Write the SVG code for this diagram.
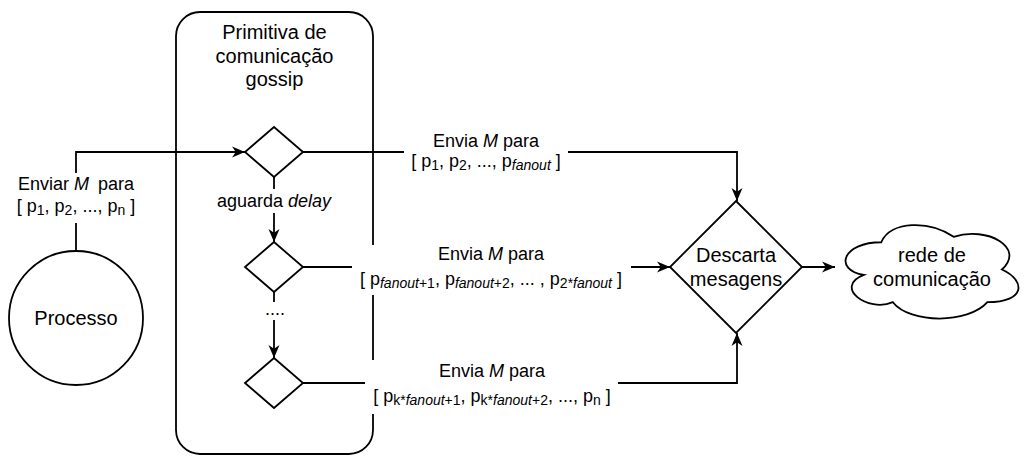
<svg xmlns="http://www.w3.org/2000/svg" width="1024" height="456" viewBox="0 0 1024 456">
<defs>
<style>
text{font-family:"Liberation Sans",Arial,Helvetica,sans-serif;fill:#000;text-anchor:middle}
.n{font-size:20px}
.e{font-size:18px}
.s{font-size:14px}
.i{font-style:italic}
.shape{fill:#fff;stroke:#000;stroke-width:1.8}
.line{fill:none;stroke:#000;stroke-width:1.8}
.arrow{marker-end:url(#arr)}
.bg{fill:#fff}
</style>
<marker id="arr" markerUnits="userSpaceOnUse" markerWidth="13" markerHeight="12" viewBox="0 0 13 12" refX="13" refY="6" orient="auto"><path d="M0,0.5 L13,6 L0,11.5 L3.8,6 Z" fill="#000"/></marker>
</defs>
<rect width="1024" height="456" fill="#fff"/>

<g id="container">
<rect class="shape" x="176" y="12" width="197" height="442" rx="24"/>
<text class="n" x="274.5" y="39">Primitiva de</text>
<text class="n" x="274.5" y="62.5">comunicação</text>
<text class="n" x="274.5" y="86">gossip</text>
</g>

<g id="processo">
<circle class="shape" cx="76" cy="318" r="67"/>
<text class="n" x="76" y="325">Processo</text>
</g>

<g id="d1"><polygon class="shape" points="274,127 303,152 274,177 245,152"/></g>
<g id="d2"><polygon class="shape" points="274,242 303,267 274,292 245,267"/></g>
<g id="d3"><polygon class="shape" points="274,358 303,383 274,408 245,383"/></g>

<g id="descarta">
<polygon class="shape" points="736,201 802,267 736,333 670,267"/>
<text class="n" x="736" y="262">Descarta</text>
<text class="n" x="736" y="285.5">mesagens</text>
</g>

<g id="rede">
<path class="shape" d="M881.25,242.25 C842.65,242.25 833,269.5 863.88,274.95 C833,286.94 867.74,313.1 892.83,302.2 C910.2,324 968.1,324 987.4,302.2 C1026,302.2 1026,280.4 1001.88,269.5 C1026,247.7 987.4,225.9 953.63,236.8 C929.5,220.45 890.9,220.45 881.25,242.25 Z"/>
<text class="n" x="932" y="262">rede de</text>
<text class="n" x="932" y="285.5">comunicação</text>
</g>

<g id="connectors">
<path class="line arrow" d="M76,251 V152 H245"/>
<rect class="bg" x="16" y="173" width="120" height="50"/>
<text class="e" x="76" y="190">Enviar <tspan class="i">M</tspan><tspan dx="4"> para</tspan></text>
<text class="e" x="76" y="212">[ p<tspan class="s" dy="3">1</tspan><tspan dy="-3">, p</tspan><tspan class="s" dy="3">2</tspan><tspan dy="-3">, ..., p</tspan><tspan class="s" dy="3">n</tspan><tspan dy="-3"> ]</tspan></text>

<path class="line arrow" d="M303,152 H737 V201"/>
<rect class="bg" x="404" y="134" width="164" height="40"/>
<text class="e" x="486" y="147">Envia <tspan class="i">M</tspan> para</text>
<text class="e" x="486" y="167">[ p<tspan class="s" dy="3">1</tspan><tspan dy="-3">, p</tspan><tspan class="s" dy="3">2</tspan><tspan dy="-3">, ..., p</tspan><tspan class="s i" dy="3">fanout</tspan><tspan dy="-3"> ]</tspan></text>

<path class="line arrow" d="M274,177 V242"/>
<rect class="bg" x="215" y="189" width="118" height="24"/>
<text class="e" x="274" y="207">aguarda <tspan class="i">delay</tspan></text>

<path class="line arrow" d="M274,292 V358"/>
<rect class="bg" x="263" y="302" width="24" height="18"/>
<text class="e" x="275" y="315">....</text>

<path class="line arrow" d="M303,267 H670"/>
<rect class="bg" x="352" y="245" width="279" height="50"/>
<text class="e" x="491" y="260">Envia <tspan class="i">M</tspan> para</text>
<text class="e" x="491" y="285">[ p<tspan class="s i" dy="3">fanout</tspan><tspan class="s">+1</tspan><tspan dy="-3">, p</tspan><tspan class="s i" dy="3">fanout</tspan><tspan class="s">+2</tspan><tspan dy="-3">, ... , p</tspan><tspan class="s" dy="3">2*</tspan><tspan class="s i">fanout</tspan><tspan dy="-3"> ]</tspan></text>

<path class="line arrow" d="M303,383 H737 V333"/>
<rect class="bg" x="365" y="360" width="253" height="54"/>
<text class="e" x="492" y="377">Envia <tspan class="i">M</tspan> para</text>
<text class="e" x="492" y="402">[ p<tspan class="s" dy="3">k*</tspan><tspan class="s i">fanout</tspan><tspan class="s">+1</tspan><tspan dy="-3">, p</tspan><tspan class="s" dy="3">k*</tspan><tspan class="s i">fanout</tspan><tspan class="s">+2</tspan><tspan dy="-3">, ..., p</tspan><tspan class="s" dy="3">n</tspan><tspan dy="-3"> ]</tspan></text>

<path class="line arrow" d="M802,267 H835"/>
</g>
</svg>
